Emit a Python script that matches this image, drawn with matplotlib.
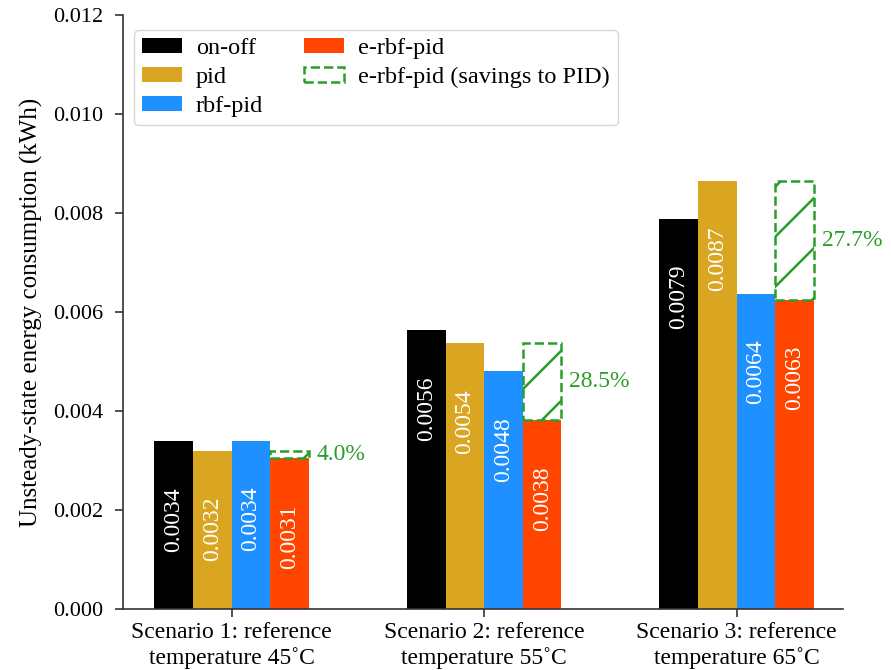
import numpy as np
import matplotlib.pyplot as plt
from matplotlib.patches import Rectangle, Patch

plt.rcParams['font.family'] = ['Liberation Serif', 'DejaVu Serif']

# data
scenarios = ['Scenario 1: reference\ntemperature 45˚C',
             'Scenario 2: reference\ntemperature 55˚C',
             'Scenario 3: reference\ntemperature 65˚C']
onoff = [0.00339, 0.00563, 0.00788]
pid = [0.00320, 0.00537, 0.00865]
rbfpid = [0.00340, 0.00480, 0.00637]
erbfpid = [0.00305, 0.00381, 0.00624]
onoff_lbl = ['0.0034', '0.0056', '0.0079']
pid_lbl = ['0.0032', '0.0054', '0.0087']
rbfpid_lbl = ['0.0034', '0.0048', '0.0064']
erbfpid_lbl = ['0.0031', '0.0038', '0.0063']
savings = ['4.0%', '28.5%', '27.7%']

series = [('on-off', onoff, onoff_lbl, 'black'),
          ('pid', pid, pid_lbl, 'goldenrod'),
          ('rbf-pid', rbfpid, rbfpid_lbl, 'dodgerblue'),
          ('e-rbf-pid', erbfpid, erbfpid_lbl, 'orangered')]
green = '#2a9d2a'

fig = plt.figure(figsize=(8.91, 6.70), dpi=100)
ax = fig.add_axes([0.138, 0.091, 0.808, 0.887])

x = np.arange(len(scenarios))
w = 0.153
for i, (name, vals, lbls, col) in enumerate(series):
    xs = x + (i - 1.5) * w
    ax.bar(xs, vals, w, color=col, label=name)
    for xx, v, t in zip(xs, vals, lbls):
        ax.text(xx, v - 0.00158, t, rotation=90, ha='center', va='center',
                color='white', fontsize=17)

ax.set_xlim(-0.43, 2.42)
ax.set_ylim(0, 0.012)

# savings box: from e-rbf-pid top up to pid top
xs = x + 1.5 * w
fig.canvas.draw()
for xx, lo, hi, t in zip(xs, erbfpid, pid, savings):
    r = Rectangle((xx - w / 2, lo), w, hi - lo, fill=False, edgecolor=green,
                  linestyle='--', linewidth=1.8)
    ax.add_patch(r)
    # sparse hatch lines, drawn in pixel space and clipped to the box
    (px0, py0), (px1, py1) = ax.transData.transform([(xx - w / 2, lo), (xx + w / 2, hi)])
    sp = 50
    for c in np.arange(np.floor((py0 - px1) / sp) * sp + 8, py1 - px0 + sp, sp):
        seg = ax.transData.inverted().transform([(px0 - 5, px0 - 5 + c), (px1 + 5, px1 + 5 + c)])
        ln, = ax.plot(seg[:, 0], seg[:, 1], color=green, lw=1.8)
        ln.set_clip_path(r)
    ax.text(xx + w / 2 + 0.03, (lo + hi) / 2, t, color=green, fontsize=17,
            ha='left', va='center')

ax.set_xticks(x)
ax.set_xticklabels(scenarios, fontsize=17, linespacing=1.2)
ax.set_yticks(np.arange(0, 0.0121, 0.002))
ax.set_yticklabels(['%.3f' % v for v in np.arange(0, 0.0121, 0.002)], fontsize=16)
ax.set_ylabel('Unsteady-state energy consumption (kWh)', fontsize=18, labelpad=7)
ax.tick_params(length=6, width=1.2, color='#333333')
ax.tick_params(axis='y', pad=8.5)
for s in ['top', 'right']:
    ax.spines[s].set_visible(False)
for s in ['left', 'bottom']:
    ax.spines[s].set_color('#333333')
    ax.spines[s].set_linewidth(1.2)

handles, labels = ax.get_legend_handles_labels()
handles.append(Patch(facecolor='none', edgecolor=green, linestyle='--', linewidth=1.8))
labels.append('e-rbf-pid (savings to PID)')
leg = ax.legend(handles, labels, ncol=2, loc='upper left', fontsize=17.5,
                bbox_to_anchor=(-0.002, 0.995), handlelength=1.65, handleheight=0.55,
                handletextpad=0.55, columnspacing=1.7, borderpad=0.35,
                labelspacing=0.32, frameon=True, fancybox=True, edgecolor='#cccccc')

fig.savefig('out.png', dpi=100)
